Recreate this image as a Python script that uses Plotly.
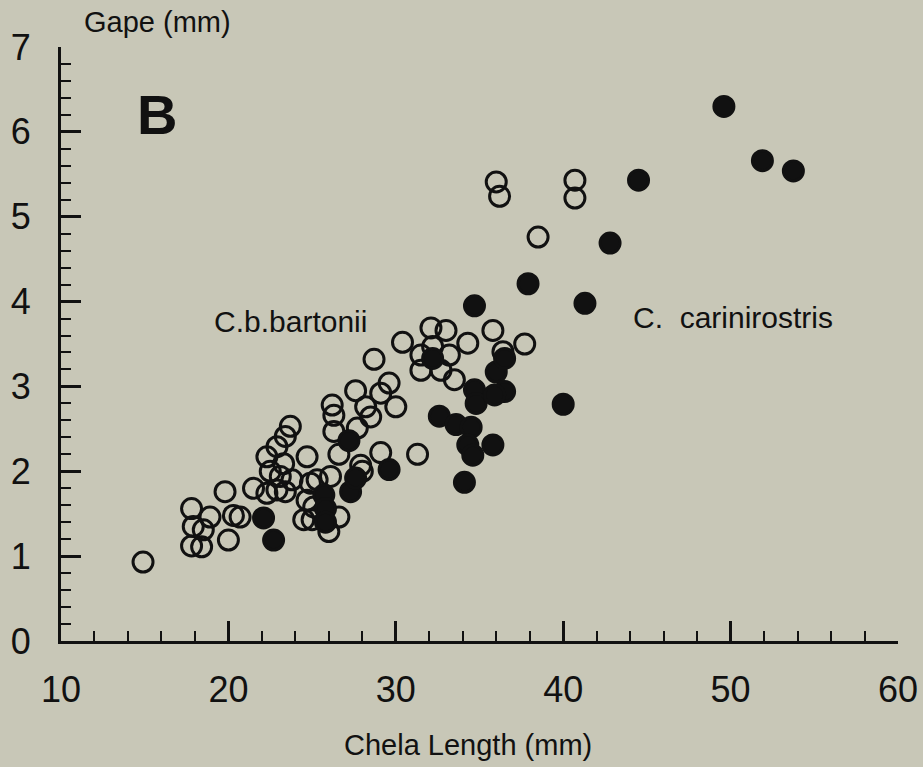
import plotly.graph_objects as go

# C.b.bartonii (open circles)
bart_x = [14.9, 17.8, 17.9, 17.8, 18.4, 18.5, 18.9, 19.8, 20.0, 20.3, 20.7, 21.5,
          22.3, 22.5, 22.3, 22.9, 23.1, 23.4, 23.7, 23.3, 23.8, 23.4, 22.9, 24.7,
          25.3, 26.1, 24.7, 25.1, 24.5, 25.0, 26.0, 26.6, 24.9,
          26.2, 26.3, 26.3, 27.7, 26.6, 27.9, 28.0, 27.6, 28.5, 28.2, 29.1, 29.6,
          30.0, 28.7, 29.1, 30.4, 31.3, 32.1, 33.0, 31.5, 33.2, 31.5, 32.7, 33.5,
          32.2, 34.3, 35.8, 36.4, 37.7, 36.0, 36.2, 38.5, 40.7, 40.7]
bart_y = [0.93, 1.56, 1.35, 1.12, 1.11, 1.31, 1.46, 1.76, 1.19, 1.48, 1.46, 1.80,
          1.74, 2.00, 2.17, 2.29, 1.94, 2.41, 2.53, 2.09, 1.90, 1.76, 1.78, 2.17,
          1.90, 1.94, 1.66, 1.58, 1.43, 1.43, 1.29, 1.46, 1.86,
          2.78, 2.66, 2.47, 2.51, 2.20, 2.07, 2.00, 2.95, 2.64, 2.76, 2.92, 3.04,
          2.76, 3.32, 2.22, 3.52, 2.20, 3.69, 3.66, 3.37, 3.37, 3.19, 3.19, 3.08,
          3.47, 3.51, 3.66, 3.41, 3.50, 5.41, 5.24, 4.76, 5.43, 5.22]

# C. carinirostris (filled circles)
car_x = [22.1, 22.7, 25.7, 25.8, 25.8, 27.3, 27.6, 27.2, 29.6, 32.2, 32.6, 33.6,
         34.5, 34.3, 35.8, 34.6, 34.1, 34.7, 34.7, 34.8, 36.0, 36.5, 36.5, 35.9,
         37.9, 40.0, 41.3, 42.8, 44.5, 49.6, 51.9, 53.75]
car_y = [1.45, 1.19, 1.72, 1.56, 1.40, 1.76, 1.92, 2.36, 2.02, 3.33, 2.65, 2.55,
         2.52, 2.31, 2.31, 2.19, 1.87, 3.95, 2.96, 2.80, 3.17, 3.33, 2.94, 2.90,
         4.21, 2.79, 3.98, 4.69, 5.43, 6.30, 5.66, 5.54]

x_ticks = [10, 20, 30, 40, 50, 60]
y_ticks = [0, 1, 2, 3, 4, 5, 6, 7]

FONT = "Liberation Sans, Arial, Helvetica, sans-serif"
INK = "#111111"
BG = "#c8c7b7"

fig = go.Figure()
fig.add_trace(go.Scatter(
    x=bart_x, y=bart_y, mode="markers", name="C.b.bartonii",
    marker=dict(symbol="circle-open", size=20, color=INK, line=dict(width=3, color=INK)),
))
fig.add_trace(go.Scatter(
    x=car_x, y=car_y, mode="markers", name="C. carinirostris",
    marker=dict(symbol="circle", size=20, color=INK, line=dict(width=3, color=INK)),
))

fig.update_layout(
    width=923, height=767,
    margin=dict(l=61, r=25, t=47, b=126, autoexpand=False),
    paper_bgcolor=BG, plot_bgcolor=BG,
    showlegend=False,
    font=dict(family=FONT, color=INK),
    xaxis=dict(
        range=[10, 60], tickmode="array", tickvals=x_ticks,
        ticktext=[str(v) for v in x_ticks], automargin=False,
        showgrid=False, zeroline=False, showline=True, linewidth=3, linecolor=INK,
        ticks="inside", ticklen=20, tickwidth=2.5, tickcolor=INK,
        tickfont=dict(size=36, family=FONT, color=INK), ticklabelstandoff=15,
        minor=dict(dtick=2, ticks="inside", ticklen=10, tickwidth=2, tickcolor=INK, showgrid=False),
        fixedrange=True,
    ),
    yaxis=dict(
        range=[0, 7], tickmode="array", tickvals=y_ticks,
        ticktext=[str(v) for v in y_ticks], automargin=False,
        showgrid=False, zeroline=False, showline=True, linewidth=3, linecolor=INK,
        ticks="inside", ticklen=20, tickwidth=2.5, tickcolor=INK,
        tickfont=dict(size=36, family=FONT, color=INK), ticklabelstandoff=20,
        minor=dict(dtick=0.2, ticks="inside", ticklen=10, tickwidth=2, tickcolor=INK, showgrid=False),
        fixedrange=True,
    ),
    annotations=[
        dict(text="Chela Length (mm)", xref="paper", yref="paper", x=0.486, y=-0.175,
             xanchor="center", yanchor="middle", showarrow=False,
             font=dict(size=29, family=FONT, color=INK)),
        dict(text="Gape (mm)", xref="paper", yref="paper", x=0.1147, y=1.042,
             xanchor="center", yanchor="middle", showarrow=False,
             font=dict(size=29, family=FONT, color=INK)),
        dict(text="<b>B</b>", xref="paper", yref="paper", x=0.1147, y=0.887,
             xanchor="center", yanchor="middle", showarrow=False,
             font=dict(size=56, family=FONT, color=INK)),
        dict(text="C.b.bartonii", xref="x", yref="y", x=23.68, y=3.77,
             xanchor="center", yanchor="middle", showarrow=False,
             font=dict(size=30, family=FONT, color=INK)),
        dict(text="C.\u00a0\u00a0carinirostris", xref="x", yref="y", x=50.14, y=3.81,
             xanchor="center", yanchor="middle", showarrow=False,
             font=dict(size=30, family=FONT, color=INK)),
    ],
)

fig.write_html(
    "out.html",
    config={"displayModeBar": False},
    post_script="document.documentElement.style.margin='0';document.body.style.margin='0';document.body.style.padding='0';document.body.style.overflow='hidden';",
)
